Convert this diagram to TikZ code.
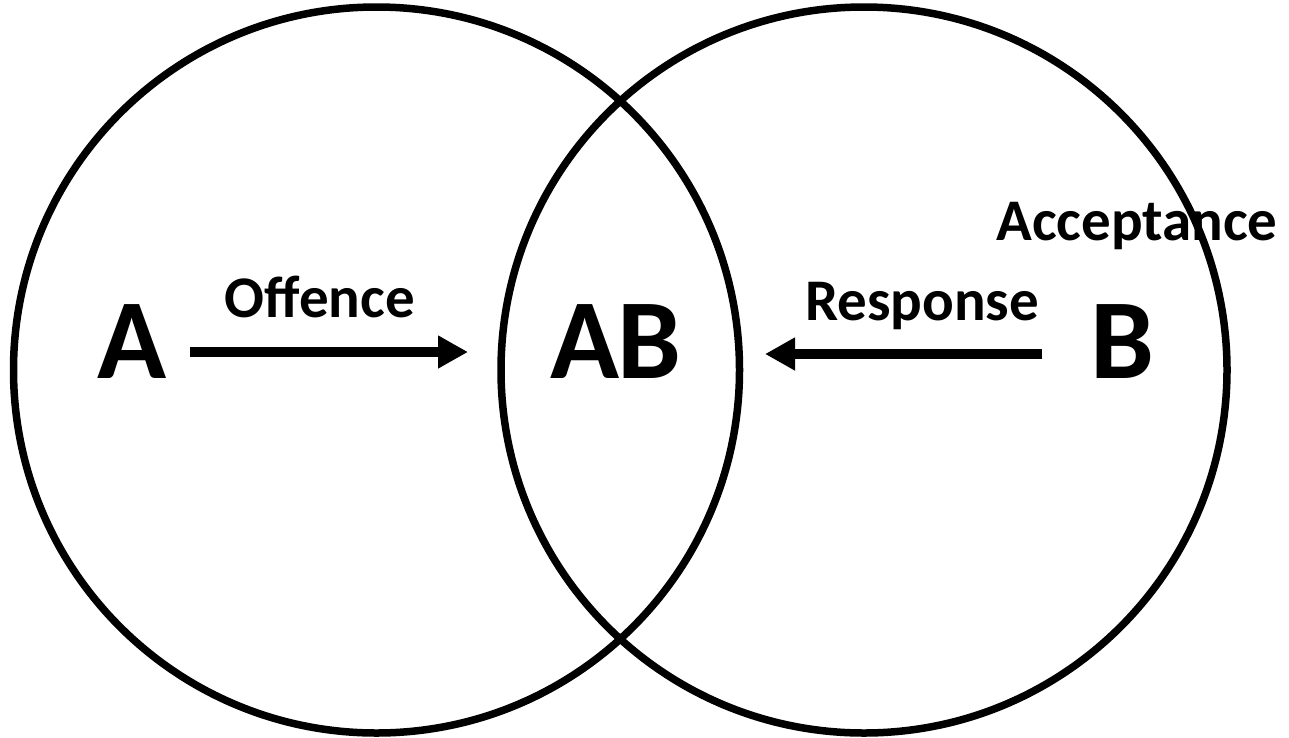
\documentclass[tikz,border=0pt]{standalone}
\usepackage{fontspec}
\setmainfont{Carlito}
\usetikzlibrary{arrows.meta}
\begin{document}
\begin{tikzpicture}[x=1pt,y=-1pt,
  ring/.style={draw=black,line width=7.5pt},
  big/.style={font=\bfseries\fontsize{114}{114}\selectfont,anchor=base,inner sep=0pt},
  lbl/.style={font=\bfseries\fontsize{59}{59}\selectfont,anchor=base,inner sep=0pt},
  arr/.style={line width=10pt,-{Triangle[length=30pt,width=31pt]}}]
\useasboundingbox (0,0) rectangle (1289,737);
\fill[white] (0,0) rectangle (1289,737);
\draw[ring] (376.5,370) circle[radius=363];
\draw[ring] (864,370) circle[radius=363];
\node[big] (a) at (132,378) {A};
\node[big] (ab) at (616,378) {A\kern-2pt B};
\node[big] (b) at (1122,378) {B};
\node[lbl] (off) at (320,317) {Offence};
\node[lbl] (resp) at (922,320) {Response};
\node[lbl] (acc) at (1137,240) {Acceptance};
\coordinate (a1) at (190,352);
\coordinate (a2) at (468,352);
\coordinate (b1) at (1042,354);
\coordinate (b2) at (765,354);
\draw[arr] (a1) -- (a2);
\draw[arr] (b1) -- (b2);
\end{tikzpicture}
\end{document}
